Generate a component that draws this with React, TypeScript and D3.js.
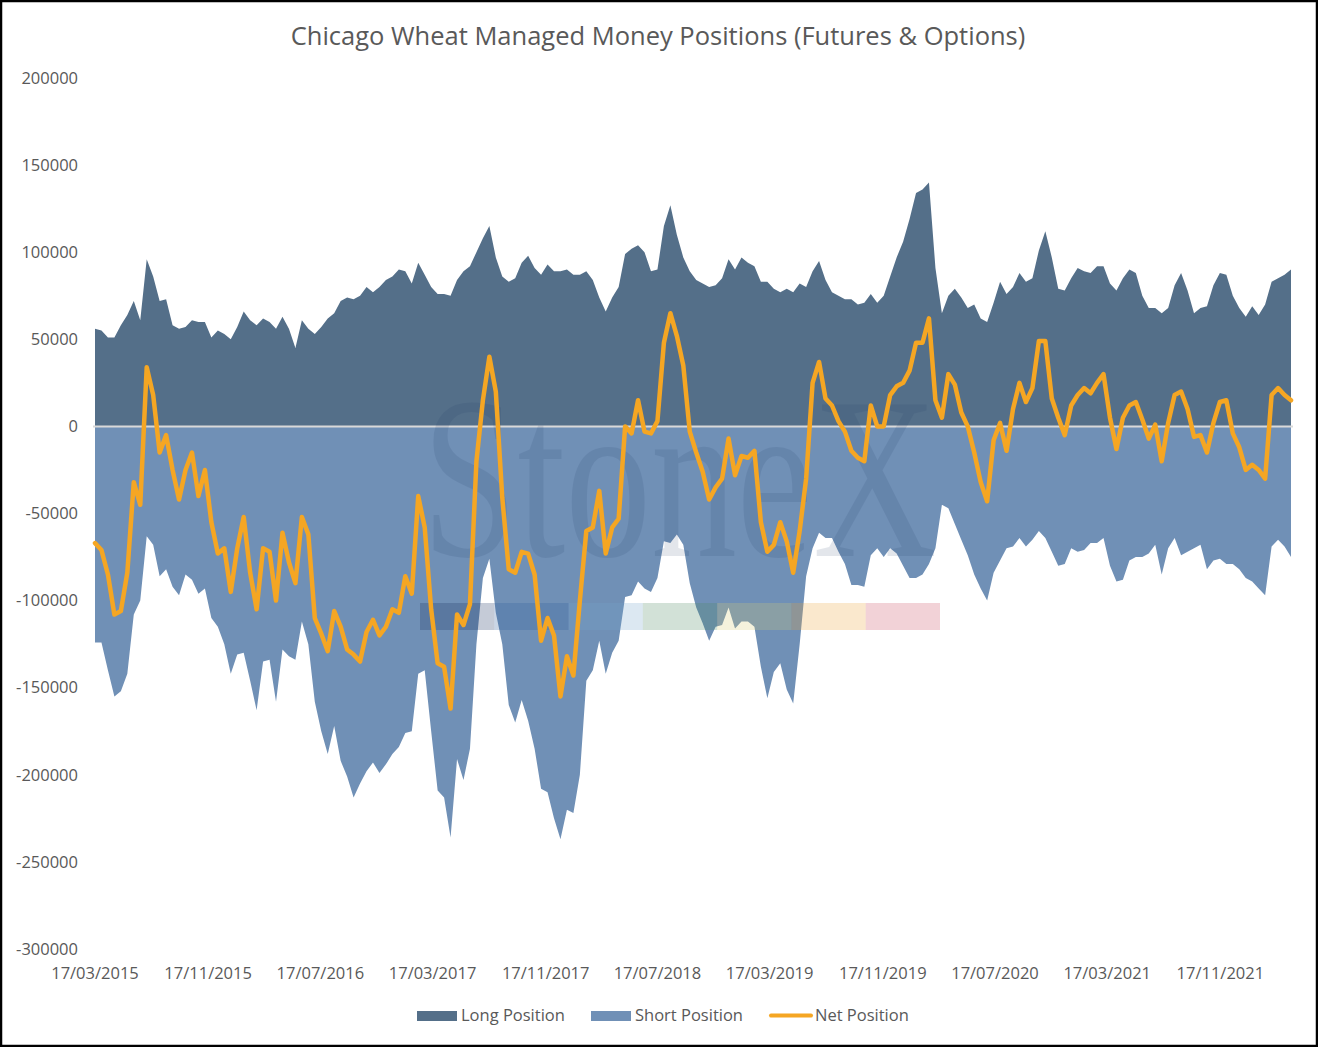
import { useEffect, useRef } from 'react';
import * as d3 from 'd3';

// Weekly COT data sampled every second week, values in thousands of contracts
const START_DATE = new Date(2015, 2, 17);
const STEP_DAYS = 14;

const LONG_K = [
  56, 55, 51, 51, 58, 64, 72, 61, 96, 86, 72, 73, 58, 56, 57, 61, 60, 60, 51, 55,
  53, 50, 57, 66, 61, 58, 62, 60, 56, 63, 56, 45, 61, 56, 53, 57, 62, 65, 72, 74,
  73, 75, 80, 77, 80, 84, 86, 90, 89, 82, 94, 87, 80, 76, 76, 75, 84, 89, 92, 100,
  108, 115, 97, 86, 83, 85, 94, 98, 91, 87, 93, 89, 89, 90, 87, 87, 89, 84, 74, 66,
  74, 80, 99, 102, 104, 100, 89, 90, 115, 127, 110, 97, 89, 84, 82, 80, 81, 85, 96, 90,
  97, 94, 92, 83, 83, 79, 77, 79, 77, 82, 80, 89, 95, 84, 77, 75, 73, 73, 70, 71,
  76, 71, 75, 86, 97, 106, 119, 134, 136, 140, 91, 65, 75, 79, 74, 68, 70, 62, 60, 71,
  83, 76, 80, 88, 83, 85, 101, 112, 97, 79, 78, 85, 91, 89, 88, 92, 92, 82, 78, 85,
  90, 88, 75, 68, 68, 65, 68, 81, 88, 78, 65, 68, 69, 81, 88, 87, 75, 68, 63, 69,
  64, 70, 83, 85, 87, 90,
];

const SHORT_K = [
  -124, -124, -140, -155, -152, -142, -108, -100, -63, -68, -86, -82, -92, -97, -85, -88, -96, -93, -110, -115,
  -125, -142, -131, -130, -146, -163, -135, -134, -158, -128, -132, -134, -112, -125, -158, -175, -188, -172, -192, -201,
  -213, -205, -198, -193, -199, -194, -188, -184, -176, -175, -142, -140, -175, -209, -213, -236, -191, -203, -185, -125,
  -87, -76, -107, -125, -160, -170, -157, -169, -185, -208, -210, -225, -237, -220, -222, -200, -146, -140, -123, -142,
  -130, -123, -98, -97, -89, -93, -95, -87, -66, -67, -62, -68, -90, -104, -113, -123, -115, -114, -104, -116,
  -112, -112, -115, -138, -156, -141, -136, -151, -159, -125, -86, -70, -61, -64, -64, -72, -79, -91, -91, -92,
  -74, -70, -75, -70, -73, -80, -87, -87, -85, -79, -70, -45, -47, -56, -65, -74, -85, -93, -100, -84,
  -77, -70, -69, -64, -69, -65, -60, -64, -72, -80, -79, -70, -72, -71, -67, -67, -64, -80, -89, -88,
  -77, -75, -75, -73, -68, -85, -70, -64, -74, -72, -70, -68, -82, -77, -76, -79, -79, -82, -87, -89,
  -93, -97, -69, -65, -69, -75,
];

const NET_K = [
  -67, -71, -85, -108, -106, -84, -32, -45, 34, 18, -15, -5, -25, -42, -25, -15, -40, -25, -55, -73,
  -70, -95, -70, -52, -84, -105, -70, -72, -100, -61, -78, -90, -52, -62, -110, -119, -129, -106, -115, -128,
  -131, -135, -118, -111, -120, -115, -105, -107, -86, -96, -40, -58, -105, -136, -138, -162, -108, -114, -102, -20,
  15, 40, 20, -41, -82, -84, -72, -73, -85, -123, -110, -120, -155, -132, -143, -100, -60, -58, -37, -73,
  -58, -53, 0, -4, 15, -3, -4, 3, 48, 65, 52, 35, -3, -15, -26, -42, -35, -30, -7, -28,
  -17, -18, -14, -55, -72, -68, -55, -66, -84, -60, -30, 25, 37, 16, 12, 3, -3, -14, -18, -20,
  12, 0, 0, 18, 23, 25, 32, 48, 48, 62, 15, 5, 30, 24, 8, 0, -15, -32, -43, -8,
  2, -14, 10, 25, 14, 22, 49, 49, 16, 5, -5, 12, 18, 22, 19, 25, 30, 5, -13, 5,
  12, 14, 4, -7, 1, -20, 2, 18, 20, 10, -6, -5, -15, 2, 14, 15, -4, -12, -25, -22,
  -25, -30, 18, 22, 18, 15,
];

const Y_TICKS = [200000, 150000, 100000, 50000, 0, -50000, -100000, -150000, -200000, -250000, -300000];
const X_TICK_MONTH_STEP = 8;
const X_TICK_COUNT = 11;

const TITLE = 'Chicago Wheat Managed Money Positions (Futures & Options)';
const LEGEND = [
  { key: 'long', label: 'Long Position' },
  { key: 'short', label: 'Short Position' },
  { key: 'net', label: 'Net Position' },
];

const LONG_COLOR = '#546f89';
const SHORT_COLOR = '#7090b6';
const NET_COLOR = '#f5a623';
const TEXT_COLOR = '#595959';
const FONT = '"Open Sans", "Noto Sans", sans-serif';

// StoneX watermark stripe colours
const STRIPE_COLORS = ['#18305e', '#2a5a9c', '#74a4cc', '#4c8860', '#d8cc74', '#eca438', '#cc4c60'];

export default function App() {
  const svgRef = useRef<SVGSVGElement>(null);
  const width = 1318;
  const height = 1047;

  useEffect(() => {
    if (!svgRef.current) return;
    const svg = d3.select(svgRef.current);
    svg.selectAll('*').remove();

    const dates = LONG_K.map((_, i) => d3.timeDay.offset(START_DATE, i * STEP_DAYS));
    const rows = dates.map((d, i) => ({
      date: d,
      long: LONG_K[i] * 1000,
      short: SHORT_K[i] * 1000,
      net: NET_K[i] * 1000,
    }));

    const x = d3.scaleTime().domain([dates[0], dates[dates.length - 1]]).range([95, 1291]);
    const y = d3.scaleLinear().domain([-300000, 200000]).range([949, 78]);

    svg.append('rect').attr('width', width).attr('height', height).attr('fill', '#fff');

    // Title
    svg
      .append('text')
      .attr('x', 658)
      .attr('y', 45)
      .attr('text-anchor', 'middle')
      .style('font-family', FONT)
      .style('font-size', '25.5px')
      .style('fill', TEXT_COLOR)
      .text(TITLE);

    // Areas
    const longArea = d3
      .area<(typeof rows)[number]>()
      .x((d) => x(d.date))
      .y0(y(0))
      .y1((d) => y(d.long));
    const shortArea = d3
      .area<(typeof rows)[number]>()
      .x((d) => x(d.date))
      .y0(y(0))
      .y1((d) => y(d.short));

    svg.append('path').datum(rows).attr('d', longArea).attr('fill', LONG_COLOR);
    svg.append('path').datum(rows).attr('d', shortArea).attr('fill', SHORT_COLOR);

    // Zero line
    svg
      .append('line')
      .attr('x1', x(dates[0]) - 2)
      .attr('x2', x(dates[dates.length - 1]) + 2)
      .attr('y1', y(0))
      .attr('y2', y(0))
      .attr('stroke', '#d9d9d9')
      .attr('stroke-width', 2);

    // Watermark
    const wm = svg.append('g').attr('pointer-events', 'none');
    wm.append('text')
      .attr('x', 422)
      .attr('y', 556)
      .attr('textLength', 515)
      .attr('lengthAdjust', 'spacingAndGlyphs')
      .style('font-family', '"Liberation Serif", "DejaVu Serif", serif')
      .style('font-size', '230px')
      .style('fill', '#1f3864')
      .style('opacity', 0.12)
      .text('StoneX');
    const stripeW = (940 - 420) / STRIPE_COLORS.length;
    wm.selectAll('rect.stripe')
      .data(STRIPE_COLORS)
      .enter()
      .append('rect')
      .attr('class', 'stripe')
      .attr('x', (_, i) => 420 + i * stripeW)
      .attr('y', 603)
      .attr('width', stripeW)
      .attr('height', 27)
      .attr('fill', (d) => d)
      .style('opacity', 0.25);

    // Net line
    const netLine = d3
      .line<(typeof rows)[number]>()
      .x((d) => x(d.date))
      .y((d) => y(d.net));
    svg
      .append('path')
      .datum(rows)
      .attr('d', netLine)
      .attr('fill', 'none')
      .attr('stroke', NET_COLOR)
      .attr('stroke-width', 4.5)
      .attr('stroke-linejoin', 'round')
      .attr('stroke-linecap', 'round');

    // Y axis labels
    svg
      .append('g')
      .selectAll('text')
      .data(Y_TICKS)
      .enter()
      .append('text')
      .attr('x', 78)
      .attr('y', (d) => y(d))
      .attr('dy', '0.35em')
      .attr('text-anchor', 'end')
      .style('font-family', FONT)
      .style('font-size', '16.5px')
      .style('fill', TEXT_COLOR)
      .text((d) => String(d));

    // X axis labels
    const xTicks = d3.range(X_TICK_COUNT).map((k) => d3.timeMonth.offset(START_DATE, k * X_TICK_MONTH_STEP));
    const fmt = d3.timeFormat('%d/%m/%Y');
    svg
      .append('g')
      .selectAll('text')
      .data(xTicks)
      .enter()
      .append('text')
      .attr('x', (d) => x(d))
      .attr('y', 979)
      .attr('text-anchor', 'middle')
      .style('font-family', FONT)
      .style('font-size', '16.5px')
      .style('fill', TEXT_COLOR)
      .text((d) => fmt(d));

    // Legend
    const legendPos: Record<string, number> = { long: 417, short: 591, net: 769 };
    const lg = svg.append('g');
    LEGEND.forEach((item) => {
      const lx = legendPos[item.key];
      if (item.key === 'net') {
        lg.append('line')
          .attr('x1', lx + 2)
          .attr('x2', lx + 42)
          .attr('y1', 1015.5)
          .attr('y2', 1015.5)
          .attr('stroke', NET_COLOR)
          .attr('stroke-width', 4)
          .attr('stroke-linecap', 'round');
      } else {
        lg.append('rect')
          .attr('x', lx)
          .attr('y', 1011)
          .attr('width', 40)
          .attr('height', 10)
          .attr('fill', item.key === 'long' ? LONG_COLOR : SHORT_COLOR);
      }
      lg.append('text')
        .attr('x', lx + (item.key === 'net' ? 46 : 44))
        .attr('y', 1021)
        .style('font-family', FONT)
        .style('font-size', '16.5px')
        .style('fill', TEXT_COLOR)
        .text(item.label);
    });

    // Outer border
    svg
      .append('rect')
      .attr('x', 1)
      .attr('y', 1)
      .attr('width', width - 2)
      .attr('height', height - 2)
      .attr('fill', 'none')
      .attr('stroke', '#000')
      .attr('stroke-width', 2.5);
  }, []);

  return (
    <svg
      ref={svgRef}
      width={width}
      height={height}
      style={{ position: 'absolute', left: 0, top: 0, display: 'block' }}
    />
  );
}
